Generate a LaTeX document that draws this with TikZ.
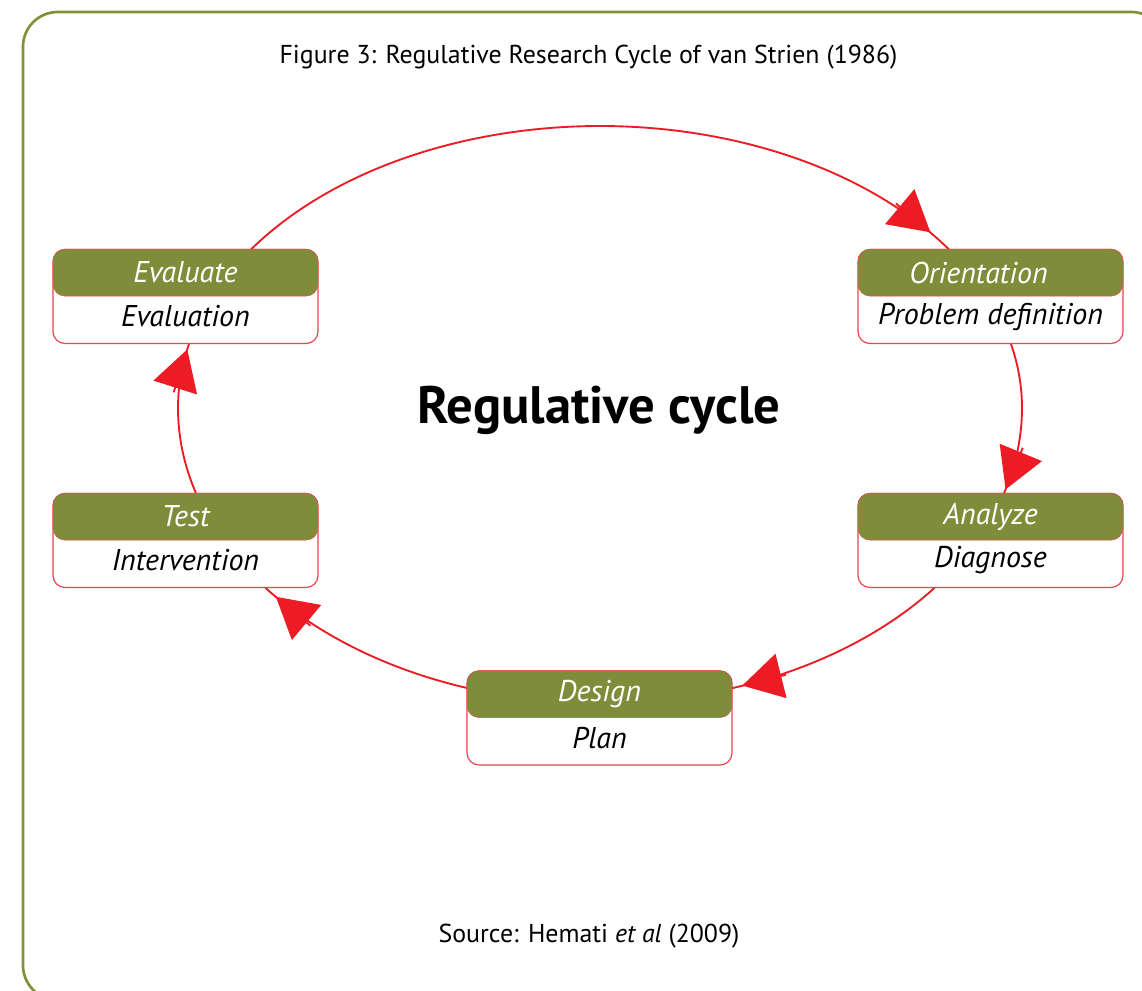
\documentclass[tikz,border=0pt]{standalone}
\usepackage{fontspec}
\setmainfont{PT Sans}
\usetikzlibrary{arrows.meta,calc}
\definecolor{olv}{RGB}{127,140,58}
\definecolor{frm}{RGB}{128,146,56}
\definecolor{cycred}{RGB}{237,28,36}
\definecolor{boxred}{RGB}{232,70,76}
\tikzset{
  frame/.style={draw=frm, line width=2pt, rounded corners=26pt},
  cyc/.style={draw=cycred, line width=1.4pt},
  arr/.style={draw=cycred, fill=cycred, line width=1.4pt, -{Triangle[length=30pt,width=34pt]}},
  box/.style={draw=boxred, line width=0.9pt, fill=white, rounded corners=9pt,
    minimum width=198.75pt, minimum height=70.5pt, inner sep=0pt},
  hdr/.style={draw=boxred, line width=0.3pt, fill=olv, rounded corners=9pt,
    minimum width=198.75pt, minimum height=35.25pt, inner sep=0pt, anchor=north,
    text=white, font=\fontsize{22.5}{27}\selectfont\itshape},
  body/.style={inner sep=0pt, text=black, font=\fontsize{22.5}{27}\selectfont\itshape},
}
\begin{document}
\begin{tikzpicture}[x=0.75pt,y=-0.75pt]
\useasboundingbox (0,0) rectangle (1142,990);
\clip (0,0) rectangle (1142,990);
\fill[white] (0,0) rectangle (1142,990);
% outer frame
\draw[frame] (23,12) rectangle (1166,1000);
% title
\node[font=\fontsize{19.4}{23}\selectfont] (title) at (588.5,57) {Figure 3: Regulative Research Cycle of van Strien (1986)};
% cycle
\draw[cyc] plot[domain=0:180, samples=181] ({600+422*cos(\x)},{408-282*sin(\x)})
  -- plot[domain=180:360, samples=181] ({600+422*cos(\x)},{408-295*sin(\x)}) -- cycle;
% arrow coordinates
\coordinate (a1b) at (895.9,203.4);  \coordinate (a1t) at (930.4,232.3);
\coordinate (a2b) at (1022.7,447.8); \coordinate (a2t) at (1005.6,489.4);
\coordinate (a3b) at (785.8,674.7);  \coordinate (a3t) at (742.2,685.6);
\coordinate (a4b) at (310.4,625.7);  \coordinate (a4t) at (275.9,596.8);
\coordinate (a5b) at (173.7,392.3);  \coordinate (a5t) at (187.3,349.4);
\draw[arr] (a1b) -- (a1t);
\draw[arr] (a2b) -- (a2t);
\draw[arr] (a3b) -- (a3t);
\draw[arr] (a4b) -- (a4t);
\draw[arr] (a5b) -- (a5t);
% boxes
\node[box] (evalB) at (185.5,296.5) {};
\node[hdr] (evalH) at (evalB.north) {Evaluate};
\node[body] (evalT) at ($(evalB.center)+(0,20)$) {Evaluation};

\node[box] (orientB) at (990.5,296.5) {};
\node[hdr] (orientH) at (orientB.north) {\hspace*{-18pt}Orientation};
\node[body] (orientT) at ($(orientB.center)+(0,20)$) {Problem definition};

\node[box] (testB) at (185.5,540.5) {};
\node[hdr] (testH) at (testB.north) {Test};
\node[body] (testT) at ($(testB.center)+(0,20)$) {Intervention};

\node[box] (analB) at (990.5,540.5) {};
\node[hdr] (analH) at (analB.north) {Analyze};
\node[body] (analT) at ($(analB.center)+(0,20)$) {Diagnose};

\node[box] (desB) at (599.5,718) {};
\node[hdr] (desH) at (desB.north) {Design};
\node[body] (desT) at ($(desB.center)+(0,20)$) {Plan};
% centre label
\node[font=\fontsize{39.5}{46}\selectfont\bfseries] (center) at (599,410) {Regulative cycle};
% source
\node[font=\fontsize{19.4}{23}\selectfont] (source) at (589,936) {Source: Hemati \textit{et al} (2009)};
\end{tikzpicture}
\end{document}
